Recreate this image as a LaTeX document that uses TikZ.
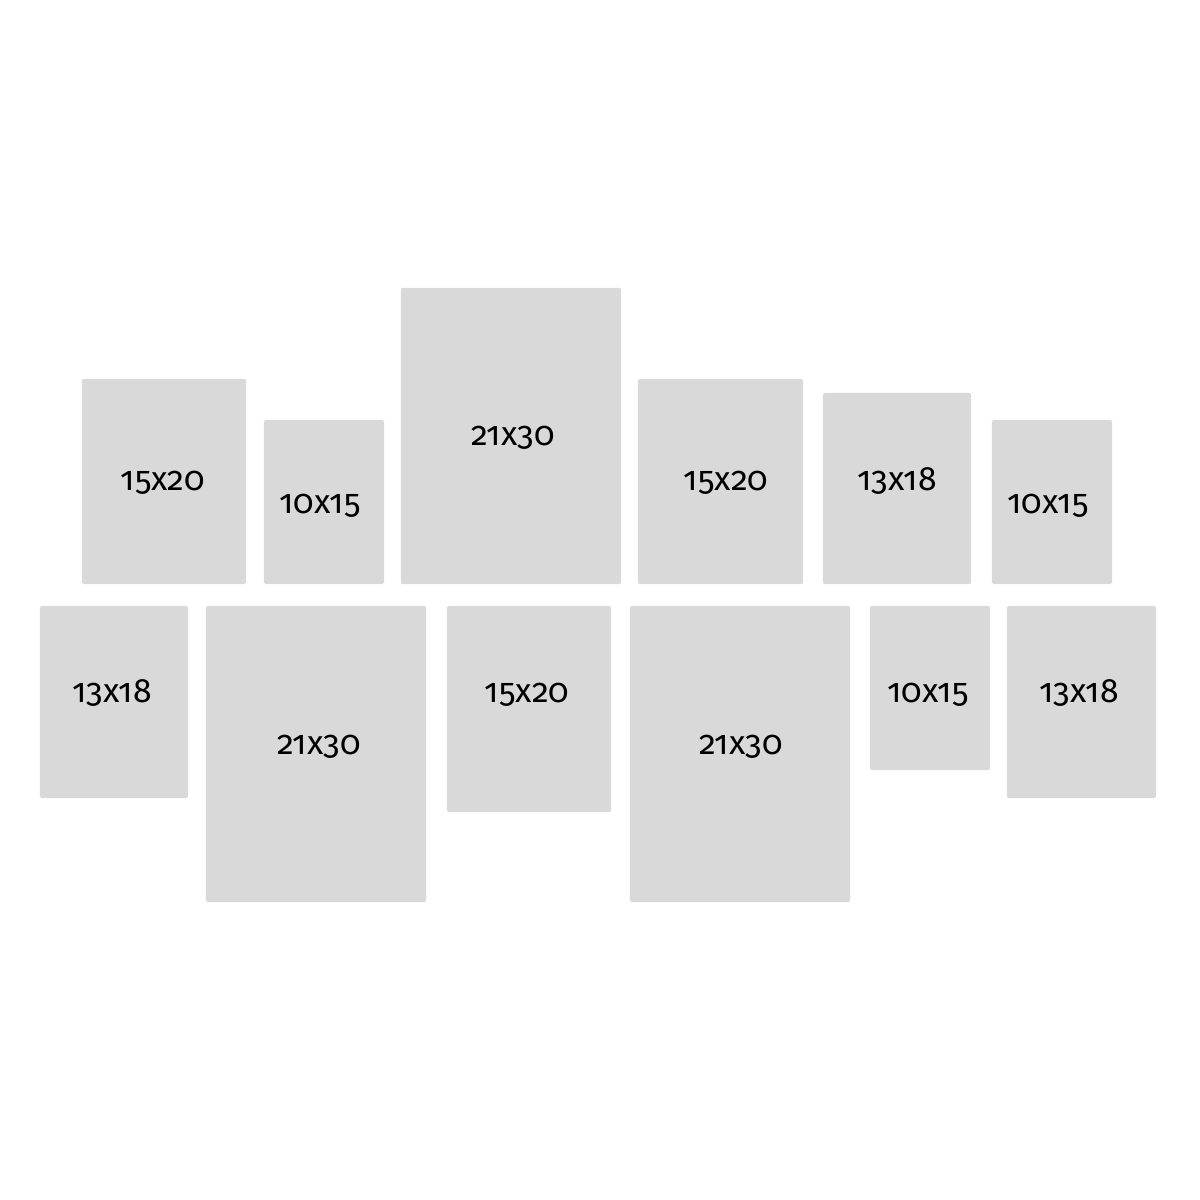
\documentclass[tikz,border=0pt]{standalone}
\usepackage{fontspec}
\setsansfont[Numbers=OldStyle]{Fira Sans}
\usepackage{tikz}
\definecolor{framegray}{HTML}{D9D9D9}
\tikzstyle{frame} = [rectangle, fill=framegray, rounded corners=0.6pt, inner sep=0pt]
\tikzstyle{size} = [anchor=base, text=black, inner sep=0pt, font=\sffamily\fontsize{9.6}{11}\selectfont]

\begin{document}
\begin{tikzpicture}[x=0.01cm, y=-0.01cm]
\useasboundingbox (0,0) rectangle (1200,1200);

% top row
\node (f1)  [frame, minimum width=1.64cm, minimum height=2.05cm] at (164,481.5)   {};
\node (f2)  [frame, minimum width=1.20cm, minimum height=1.64cm] at (324,502)     {};
\node (f3)  [frame, minimum width=2.20cm, minimum height=2.96cm] at (511,436)     {};
\node (f4)  [frame, minimum width=1.65cm, minimum height=2.05cm] at (720.5,481.5) {};
\node (f5)  [frame, minimum width=1.48cm, minimum height=1.91cm] at (897,488.5)   {};
\node (f6)  [frame, minimum width=1.20cm, minimum height=1.64cm] at (1052,502)    {};

% bottom row
\node (f7)  [frame, minimum width=1.48cm, minimum height=1.92cm] at (114,702)     {};
\node (f8)  [frame, minimum width=2.20cm, minimum height=2.96cm] at (316,754)     {};
\node (f9)  [frame, minimum width=1.64cm, minimum height=2.06cm] at (529,709)     {};
\node (f10) [frame, minimum width=2.20cm, minimum height=2.96cm] at (740,754)     {};
\node (f11) [frame, minimum width=1.20cm, minimum height=1.64cm] at (930,688)     {};
\node (f12) [frame, minimum width=1.49cm, minimum height=1.92cm] at (1081.5,702)  {};

% sizes
\node (s1)  [size] at (163,490)  {15x20};
\node (s2)  [size] at (320,513)  {10x15};
\node (s3)  [size] at (513,445)  {21x30};
\node (s4)  [size] at (726,490)  {15x20};
\node (s5)  [size] at (897,490)  {13x18};
\node (s6)  [size] at (1048,513) {10x15};
\node (s7)  [size] at (112,702)  {13x18};
\node (s8)  [size] at (319,754)  {21x30};
\node (s9)  [size] at (527,702)  {15x20};
\node (s10) [size] at (741,754)  {21x30};
\node (s11) [size] at (928,702)  {10x15};
\node (s12) [size] at (1079,702) {13x18};

\end{tikzpicture}
\end{document}
